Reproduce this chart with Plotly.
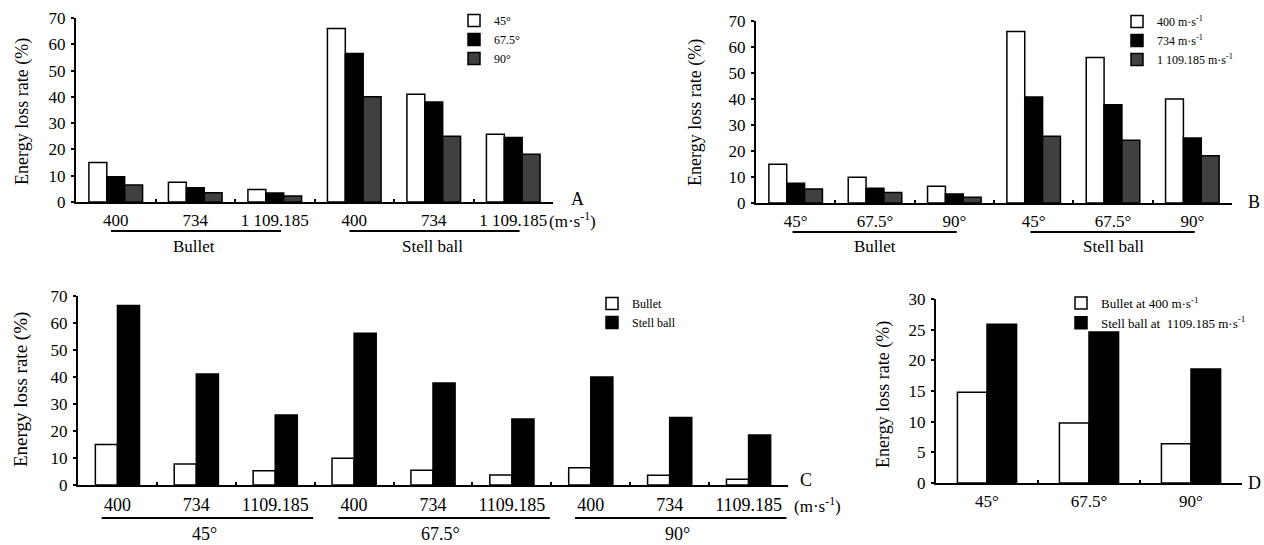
import plotly.graph_objects as go

# ---------------- data ----------------
# Panel A: x = speed within projectile, series = angle
a_speeds = ["400", "734", "1 109.185", "400", "734", "1 109.185"]
a_groups = ["Bullet", "Stell ball"]
a_series = ["45°", "67.5°", "90°"]
a_45 = [15.0, 7.5, 4.8, 66.0, 41.0, 25.8]
a_675 = [9.6, 5.4, 3.4, 56.5, 38.0, 24.5]
a_90 = [6.5, 3.5, 2.3, 40.0, 25.0, 18.2]

# Panel B: x = angle within projectile, series = speed
b_angles = ["45°", "67.5°", "90°", "45°", "67.5°", "90°"]
b_groups = ["Bullet", "Stell ball"]
b_series = ["400 m·s<sup>-1</sup>", "734 m·s<sup>-1</sup>", "1 109.185 m·s<sup>-1</sup>"]
b_400 = [14.9, 9.9, 6.4, 66.0, 56.0, 40.0]
b_734 = [7.6, 5.7, 3.5, 40.8, 37.8, 25.0]
b_1109 = [5.4, 4.0, 2.2, 25.7, 24.1, 18.2]

# Panel C: x = speed within angle, series = projectile
c_speeds = ["400", "734", "1109.185"] * 3
c_groups = ["45°", "67.5°", "90°"]
c_series = ["Bullet", "Stell ball"]
c_bullet = [15.0, 7.8, 5.3, 9.9, 5.5, 3.7, 6.4, 3.6, 2.1]
c_steel = [66.5, 41.1, 25.9, 56.2, 37.8, 24.4, 40.0, 25.0, 18.5]

# Panel D
d_angles = ["45°", "67.5°", "90°"]
d_series = ["Bullet at 400 m·s<sup>-1</sup>", "Stell ball at  1109.185 m·s<sup>-1</sup>"]
d_bullet = [14.8, 9.8, 6.4]
d_steel = [25.9, 24.6, 18.6]

FILLS = ["#ffffff", "#000000", "#404040"]
FONT = "Liberation Serif, Times New Roman, serif"
W, H = 1264, 545

def px_x(p):
    return p / W

def px_y(p):
    return (H - p) / H

fig = go.Figure()

def add_bars(values_list, names, xa, ya, legend, bar_w):
    n = len(values_list)
    total = bar_w * n
    for i, (vals, name) in enumerate(zip(values_list, names)):
        fig.add_trace(go.Bar(
            x=list(range(len(vals))), y=vals, name=name,
            xaxis=xa, yaxis=ya, legend=legend,
            width=bar_w, offset=-total / 2 + i * bar_w,
            marker=dict(color=FILLS[i], line=dict(color="black", width=1.5)),
            showlegend=True,
        ))

add_bars([a_45, a_675, a_90], a_series, "x", "y", "legend", 0.225)
add_bars([b_400, b_734, b_1109], b_series, "x2", "y2", "legend2", 0.225)
add_bars([c_bullet, c_steel], c_series, "x3", "y3", "legend3", 0.28)
add_bars([d_bullet, d_steel], d_series, "x4", "y4", "legend4", 0.29)

def xaxis(domain, labels, anchor, size):
    n = len(labels)
    return dict(
        domain=domain, anchor=anchor, range=[-0.5, n - 0.5],
        tickmode="array", tickvals=list(range(n)), ticktext=labels,
        ticks="", showgrid=False, zeroline=False,
        showline=True, linecolor="black", linewidth=2,
        tickfont=dict(family=FONT, size=size, color="black"),
        ticklabelstandoff=2,
        minor=dict(tickmode="array", tickvals=[i + 0.5 for i in range(n - 1)],
                   ticks="inside", ticklen=3, tickwidth=2, tickcolor="black",
                   showgrid=False),
        fixedrange=True,
    )

def yaxis(domain, rng, dtick, anchor):
    return dict(
        domain=domain, anchor=anchor, range=rng, dtick=dtick, tick0=0,
        showgrid=False, zeroline=False,
        showline=True, linecolor="black", linewidth=2,
        ticks="outside", ticklen=3, tickwidth=1.5, tickcolor="black",
        tickfont=dict(family=FONT, size=17, color="black"),
        ticklabelstandoff=2,
        fixedrange=True,
    )

layout = dict(
    width=W, height=H, margin=dict(l=0, r=0, t=0, b=0, autoexpand=False),
    paper_bgcolor="white", plot_bgcolor="white",
    barmode="overlay",
    font=dict(family=FONT, color="black"),
    xaxis=xaxis([px_x(76), px_x(553)], a_speeds, "y", 17),
    yaxis=yaxis([px_y(202), px_y(18)], [0, 70], 10, "x"),
    xaxis2=xaxis([px_x(756), px_x(1232)], b_angles, "y2", 17),
    yaxis2=yaxis([px_y(203), px_y(21)], [0, 70], 10, "x2"),
    xaxis3=xaxis([px_x(78), px_x(788)], c_speeds, "y3", 18),
    yaxis3=yaxis([px_y(485), px_y(296)], [0, 70], 10, "x3"),
    xaxis4=xaxis([px_x(936), px_x(1242)], d_angles, "y4", 17),
    yaxis4=yaxis([px_y(483), px_y(299)], [0, 30], 5, "x4"),
)

def legend(x_px, y_px, size):
    return dict(
        x=px_x(x_px), y=px_y(y_px), xanchor="left", yanchor="top",
        bgcolor="rgba(0,0,0,0)", borderwidth=0,
        font=dict(family=FONT, size=size, color="black"),
        itemwidth=30, tracegroupgap=0, traceorder="normal",
        itemclick=False, itemdoubleclick=False,
    )

layout["legend"] = legend(454, 6, 12)
layout["legend2"] = legend(1117, 7, 12)
layout["legend3"] = legend(592, 289, 12)
layout["legend4"] = legend(1061, 288, 13)

shapes = []
annotations = []

def group_marks(xref, groups, per_group, line_y, label_y, lo, hi, shift, size):
    for gi, g in enumerate(groups):
        first = gi * per_group
        last = first + per_group - 1
        shapes.append(dict(type="line", xref=xref, yref="paper",
                           x0=first + lo, x1=last + hi,
                           y0=px_y(line_y), y1=px_y(line_y),
                           line=dict(color="black", width=2)))
        annotations.append(dict(text=g, xref=xref, yref="paper",
                                x=(first + last) / 2 + shift, y=px_y(label_y),
                                showarrow=False, xanchor="center", yanchor="middle",
                                font=dict(family=FONT, size=size, color="black")))

group_marks("x", a_groups, 3, 231, 247, -0.06, 0.08, -0.02, 17)
group_marks("x2", b_groups, 3, 232, 247, -0.04, 0.03, 0.0, 17)
group_marks("x3", c_groups, 3, 518, 534, -0.2, 0.48, 0.1, 18)

def text(t, x_px, y_px, size, angle=0, anchor="center"):
    annotations.append(dict(text=t, xref="paper", yref="paper",
                            x=px_x(x_px), y=px_y(y_px), showarrow=False,
                            xanchor=anchor, yanchor="middle", textangle=angle,
                            font=dict(family=FONT, size=size, color="black")))

ytitle = "Energy loss rate (%)"
text(ytitle, 22, 112, 18, -90)
text(ytitle, 696, 113, 18, -90)
text(ytitle, 21, 390, 19, -90)
text(ytitle, 884, 394, 18, -90)

text("A", 577, 199, 18)
text("(m·s<sup>-1</sup>)", 572, 220, 17)
text("B", 1254, 202, 18)
text("C", 806, 480, 18)
text("(m·s<sup>-1</sup>)", 817, 505, 17)
text("D", 1254, 483, 18)

layout["shapes"] = shapes
layout["annotations"] = annotations
fig.update_layout(**layout)

fig.write_html("out.html", config={"displayModeBar": False},
               post_script="document.body.style.margin='0';document.body.style.overflow='hidden';")
